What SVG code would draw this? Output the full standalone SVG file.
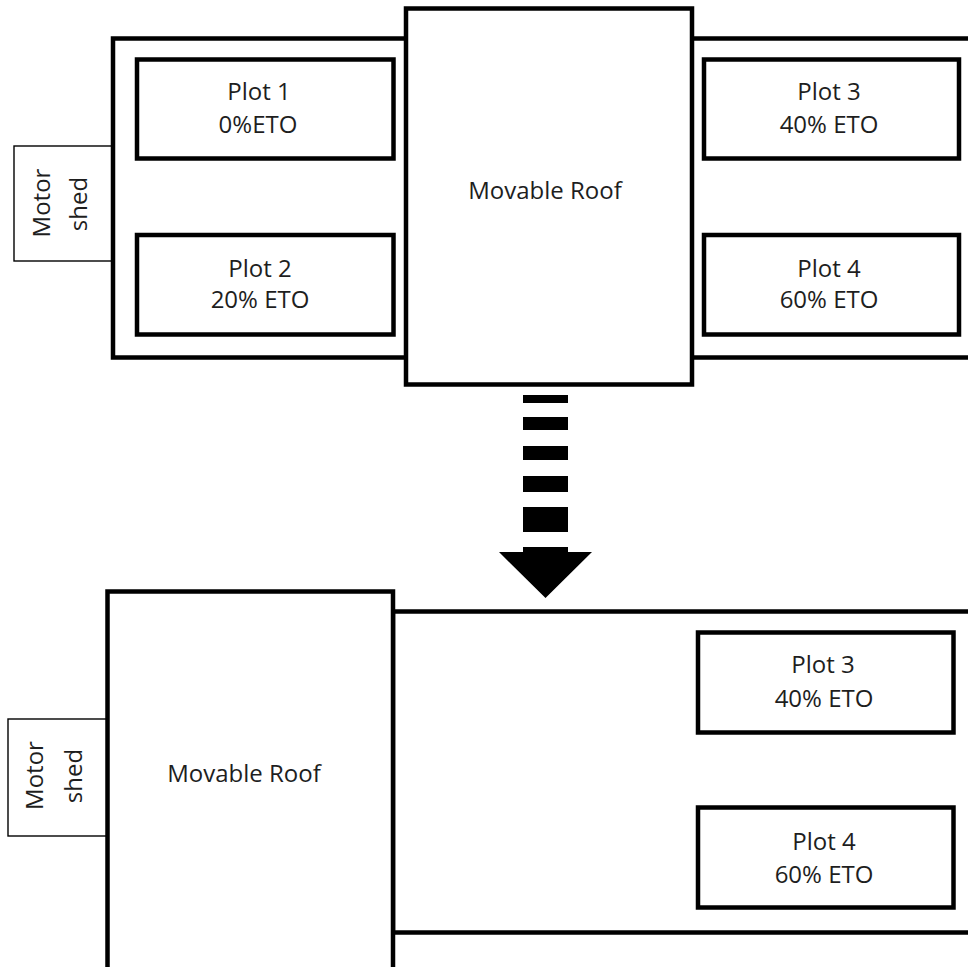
<svg xmlns="http://www.w3.org/2000/svg" width="968" height="967" viewBox="0 0 968 967">
<defs>
<style>
.thick{fill:#fff;stroke:#000;stroke-width:4.5}
.frame{fill:none;stroke:#000;stroke-width:4.5}
.shed{fill:#fff;stroke:#000;stroke-width:1.4}
.lbl{font-family:"Open Sans","Liberation Sans",sans-serif;font-size:24px;fill:#1e1e1e;text-anchor:middle}
</style>
</defs>
<rect width="968" height="967" fill="#fff"/>

<!-- TOP STATE -->
<g id="top-motor-shed">
<rect class="shed" x="14" y="146" width="99" height="115"/>
<text class="lbl" transform="translate(50,203) rotate(-90)">Motor</text>
<text class="lbl" transform="translate(87,204) rotate(-90)">shed</text>
</g>
<g id="top-frame">
<rect class="frame" x="113" y="38.5" width="870" height="319"/>
</g>
<g id="top-plot1">
<rect class="thick" x="137" y="59.5" width="256.5" height="99"/>
<text class="lbl" x="259" y="100">Plot 1</text>
<text class="lbl" x="258" y="133">0%ETO</text>
</g>
<g id="top-plot2">
<rect class="thick" x="137" y="235" width="256.5" height="99.5"/>
<text class="lbl" x="260" y="277">Plot 2</text>
<text class="lbl" x="260" y="308">20% ETO</text>
</g>
<g id="top-plot3">
<rect class="thick" x="704" y="59.5" width="255" height="99"/>
<text class="lbl" x="829" y="100">Plot 3</text>
<text class="lbl" x="829" y="133">40% ETO</text>
</g>
<g id="top-plot4">
<rect class="thick" x="704" y="235" width="255" height="99.5"/>
<text class="lbl" x="829" y="277">Plot 4</text>
<text class="lbl" x="829" y="308">60% ETO</text>
</g>
<g id="top-roof">
<rect class="thick" x="406" y="8.5" width="286" height="376"/>
<text class="lbl" x="545" y="199">Movable Roof</text>
</g>

<!-- TRANSITION ARROW -->
<g id="connectors">
<g id="arrow" fill="#000">
<rect x="523" y="395" width="45" height="8"/>
<rect x="523" y="417" width="45" height="13"/>
<rect x="523" y="446" width="45" height="14"/>
<rect x="523" y="476" width="45" height="16"/>
<rect x="523" y="507" width="45" height="25"/>
<polygon points="499,552 523,552 523,547 568,547 568,552 592,552 545.5,598"/>
</g>
</g>

<!-- BOTTOM STATE -->
<g id="bottom-motor-shed">
<rect class="shed" x="8" y="719" width="99.5" height="117"/>
<text class="lbl" transform="translate(43,775.5) rotate(-90)">Motor</text>
<text class="lbl" transform="translate(82,776) rotate(-90)">shed</text>
</g>
<g id="bottom-frame">
<rect class="frame" x="393" y="611.5" width="590" height="321"/>
</g>
<g id="bottom-plot3">
<rect class="thick" x="698" y="632.5" width="255.5" height="100"/>
<text class="lbl" x="823" y="673">Plot 3</text>
<text class="lbl" x="824" y="707">40% ETO</text>
</g>
<g id="bottom-plot4">
<rect class="thick" x="698" y="807.5" width="255.5" height="100"/>
<text class="lbl" x="824" y="850">Plot 4</text>
<text class="lbl" x="824" y="883">60% ETO</text>
</g>
<g id="bottom-roof">
<rect class="thick" x="107.5" y="591.5" width="285.5" height="400"/>
<text class="lbl" x="244" y="782">Movable Roof</text>
</g>
</svg>
